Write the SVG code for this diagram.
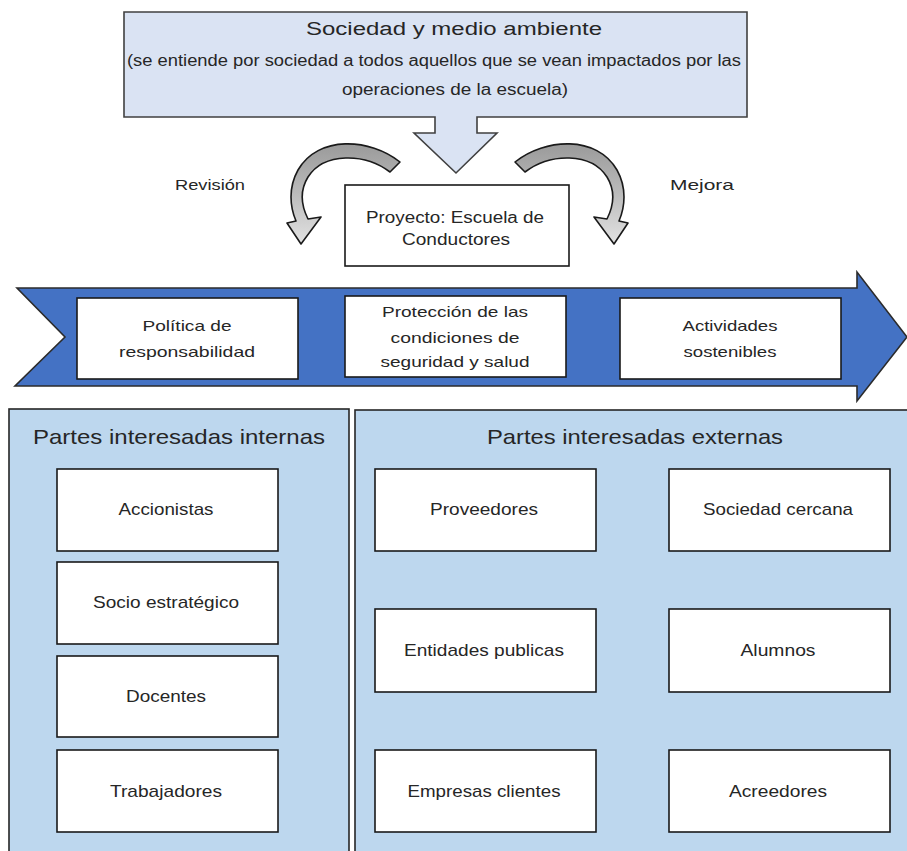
<svg xmlns="http://www.w3.org/2000/svg" width="907" height="851" viewBox="0 0 907 851">
  <defs>
    <linearGradient id="gArrow" x1="0" y1="0" x2="0" y2="1">
      <stop offset="0" stop-color="#9a9a9a"/>
      <stop offset="0.45" stop-color="#b8b8b8"/>
      <stop offset="1" stop-color="#e2e2e2"/>
    </linearGradient>
  </defs>
  <style>
    text { font-family: "Liberation Sans", Arial, sans-serif; fill: #262626; text-anchor: middle; }
    .box { fill: #ffffff; stroke: #1a1a1a; stroke-width: 1.6; }
    .panel { fill: #bdd7ee; stroke: #262626; stroke-width: 1.6; }
    .callout { fill: #dae3f3; stroke: #404040; stroke-width: 1.6; }
    .banner { fill: #4472c4; stroke: #2b2b2b; stroke-width: 1.6; }
    .curve { fill: url(#gArrow); stroke: #1a1a1a; stroke-width: 1.6; stroke-linejoin: round; }
    .t15 { font-size: 15px; }
    .t16 { font-size: 16px; }
    .t17 { font-size: 17px; }
    .t21 { font-size: 21px; }
  </style>

  <rect width="907" height="851" fill="#ffffff"/>

  <!-- Top callout -->
  <g id="sociedad">
    <path class="callout" d="M124,12 H747 V117 H477 V133 H497 L456,173 L414,133 H435 V117 H124 Z"/>
    <text x="454" y="35" style="font-size:18px" textLength="296" lengthAdjust="spacingAndGlyphs">Sociedad y medio ambiente</text>
    <text x="434" y="66" class="t16" textLength="614" lengthAdjust="spacingAndGlyphs">(se entiende por sociedad a todos aquellos que se vean impactados por las</text>
    <text x="455" y="95" class="t16" textLength="226" lengthAdjust="spacingAndGlyphs">operaciones de la escuela)</text>
  </g>

  <g id="revision">
    <text x="210" y="190" class="t15" textLength="70" lengthAdjust="spacingAndGlyphs">Revisión</text>
  </g>
  <g id="mejora">
    <text x="702" y="190" class="t15" textLength="64" lengthAdjust="spacingAndGlyphs">Mejora</text>
  </g>

  <g id="proyecto">
    <rect class="box" x="345" y="185" width="224" height="81"/>
    <text x="455" y="223" class="t16" textLength="178" lengthAdjust="spacingAndGlyphs">Proyecto: Escuela de</text>
    <text x="456" y="245" class="t16" textLength="108" lengthAdjust="spacingAndGlyphs">Conductores</text>
  </g>

  <!-- Connectors: curved arrows -->
  <g id="connectors">
    <path id="arrow-revision" class="curve" d="M400,162 C370,138 318,135 298,170 C288,188 290,207 296,221 L287,223 L301,244 L321,217 L308,219 C301,205 300,190 308,177 C324,152 365,153 390,172 Z"/>
    <path id="arrow-mejora" class="curve" transform="translate(915,0) scale(-1,1)" d="M400,162 C370,138 318,135 298,170 C288,188 290,207 296,221 L287,223 L301,244 L321,217 L308,219 C301,205 300,190 308,177 C324,152 365,153 390,172 Z"/>
  </g>

  <!-- Banner arrow -->
  <g id="banner">
    <path class="banner" d="M17,288 H857 V272 L907,337 L857,401 V386 H15 L65,337 Z"/>
  </g>

  <g id="politica">
    <rect class="box" x="77" y="298" width="221" height="81"/>
    <text x="187" y="331" class="t15" textLength="89" lengthAdjust="spacingAndGlyphs">Política de</text>
    <text x="187" y="357" class="t15" textLength="136" lengthAdjust="spacingAndGlyphs">responsabilidad</text>
  </g>
  <g id="proteccion">
    <rect class="box" x="345" y="296" width="221" height="81"/>
    <text x="455" y="317" class="t15" textLength="146" lengthAdjust="spacingAndGlyphs">Protección de las</text>
    <text x="455" y="343" class="t15" textLength="129" lengthAdjust="spacingAndGlyphs">condiciones de</text>
    <text x="455" y="367" class="t15" textLength="149" lengthAdjust="spacingAndGlyphs">seguridad y salud</text>
  </g>
  <g id="actividades">
    <rect class="box" x="620" y="298" width="221" height="81"/>
    <text x="730" y="331" class="t15" textLength="95" lengthAdjust="spacingAndGlyphs">Actividades</text>
    <text x="730" y="357" class="t15" textLength="93" lengthAdjust="spacingAndGlyphs">sostenibles</text>
  </g>

  <!-- Internal stakeholders -->
  <g id="internas">
    <rect class="panel" x="9" y="409" width="340" height="460"/>
    <text x="179" y="444" class="t21" textLength="292" lengthAdjust="spacingAndGlyphs">Partes interesadas internas</text>
  </g>
  <g id="accionistas">
    <rect class="box" x="57" y="469" width="221" height="82"/>
    <text x="166" y="515" class="t17" textLength="95" lengthAdjust="spacingAndGlyphs">Accionistas</text>
  </g>
  <g id="socio">
    <rect class="box" x="57" y="562" width="221" height="82"/>
    <text x="166" y="608" class="t17" textLength="146" lengthAdjust="spacingAndGlyphs">Socio estratégico</text>
  </g>
  <g id="docentes">
    <rect class="box" x="57" y="656" width="221" height="81"/>
    <text x="166" y="702" class="t17" textLength="80" lengthAdjust="spacingAndGlyphs">Docentes</text>
  </g>
  <g id="trabajadores">
    <rect class="box" x="57" y="750" width="221" height="82"/>
    <text x="166" y="797" class="t17" textLength="112" lengthAdjust="spacingAndGlyphs">Trabajadores</text>
  </g>

  <!-- External stakeholders -->
  <g id="externas">
    <rect class="panel" x="355" y="410" width="570" height="460"/>
    <text x="635" y="444" class="t21" textLength="296" lengthAdjust="spacingAndGlyphs">Partes interesadas externas</text>
  </g>
  <g id="proveedores">
    <rect class="box" x="375" y="469" width="221" height="82"/>
    <text x="484" y="515" class="t17" textLength="108" lengthAdjust="spacingAndGlyphs">Proveedores</text>
  </g>
  <g id="sociedad-cercana">
    <rect class="box" x="669" y="469" width="221" height="82"/>
    <text x="778" y="515" class="t17" textLength="150" lengthAdjust="spacingAndGlyphs">Sociedad cercana</text>
  </g>
  <g id="entidades">
    <rect class="box" x="375" y="609" width="221" height="83"/>
    <text x="484" y="656" class="t17" textLength="160" lengthAdjust="spacingAndGlyphs">Entidades publicas</text>
  </g>
  <g id="alumnos">
    <rect class="box" x="669" y="609" width="221" height="83"/>
    <text x="778" y="656" class="t17" textLength="75" lengthAdjust="spacingAndGlyphs">Alumnos</text>
  </g>
  <g id="empresas">
    <rect class="box" x="375" y="750" width="221" height="82"/>
    <text x="484" y="797" class="t17" textLength="153" lengthAdjust="spacingAndGlyphs">Empresas clientes</text>
  </g>
  <g id="acreedores">
    <rect class="box" x="669" y="750" width="221" height="82"/>
    <text x="778" y="797" class="t17" textLength="98" lengthAdjust="spacingAndGlyphs">Acreedores</text>
  </g>
</svg>
